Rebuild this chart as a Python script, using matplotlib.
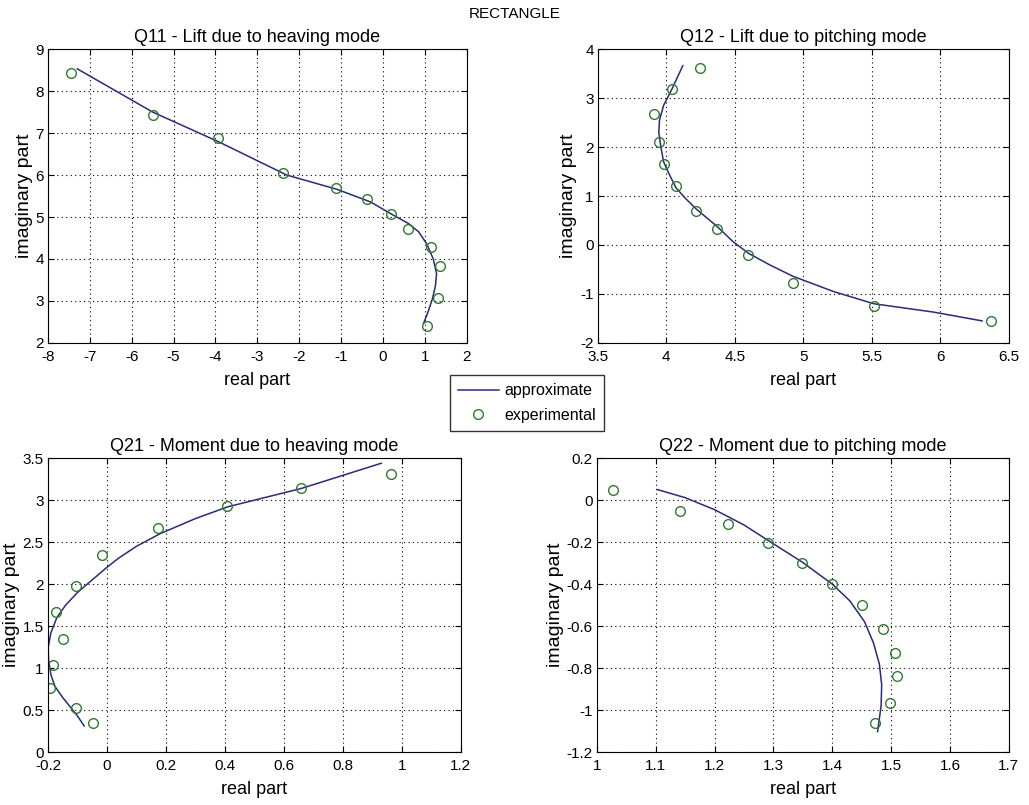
import matplotlib
matplotlib.use('Agg')
import matplotlib.pyplot as plt
from matplotlib.ticker import FuncFormatter, MultipleLocator

plt.rcParams['font.family'] = ['Liberation Sans Narrow', 'Liberation Sans', 'DejaVu Sans']

# Q11 - lift due to heaving mode
q11_exp_re = [-7.45, -5.49, -3.94, -2.39, -1.13, -0.37, 0.19, 0.60, 1.14, 1.36, 1.31, 1.06]
q11_exp_im = [8.43, 7.43, 6.88, 6.05, 5.70, 5.43, 5.08, 4.72, 4.29, 3.84, 3.06, 2.41]
q11_apx_re = [-7.3, -5.5, -3.9, -2.3, -1.1, -0.3, 0.2, 0.6, 0.85, 1.05, 1.2, 1.28, 1.25, 1.18, 1.08, 0.97]
q11_apx_im = [8.53, 7.5, 6.78, 6.0, 5.66, 5.36, 5.07, 4.85, 4.65, 4.35, 4.0, 3.65, 3.35, 3.05, 2.75, 2.47]

# Q12 - lift due to pitching mode
q12_exp_re = [4.245, 4.04, 3.91, 3.945, 3.98, 4.07, 4.22, 4.37, 4.595, 4.925, 5.515, 6.37]
q12_exp_im = [3.62, 3.18, 2.67, 2.10, 1.66, 1.20, 0.69, 0.33, -0.21, -0.77, -1.24, -1.55]
q12_apx_re = [4.12, 4.04, 3.98, 3.95, 3.945, 3.96, 3.98, 4.02, 4.07, 4.14, 4.22, 4.37, 4.49,
              4.6, 4.75, 4.925, 5.22, 5.515, 5.95, 6.305]
q12_apx_im = [3.66, 3.18, 2.85, 2.55, 2.3, 2.0, 1.7, 1.45, 1.17, 0.95, 0.73, 0.38, 0.06,
              -0.17, -0.4, -0.64, -0.95, -1.2, -1.37, -1.55]

# Q21 - moment due to heaving mode
q21_exp_re = [0.963, 0.66, 0.409, 0.172, -0.016, -0.105, -0.171, -0.148, -0.184, -0.193, -0.105, -0.046]
q21_exp_im = [3.31, 3.15, 2.93, 2.67, 2.345, 1.98, 1.67, 1.35, 1.04, 0.76, 0.53, 0.34]
q21_apx_re = [0.931, 0.66, 0.409, 0.3, 0.18, 0.1, 0.04, 0.0, -0.05, -0.1, -0.14, -0.17, -0.19,
              -0.199, -0.198, -0.19, -0.176, -0.15, -0.125, -0.1, -0.077]
q21_apx_im = [3.44, 3.14, 2.92, 2.78, 2.60, 2.45, 2.31, 2.2, 2.05, 1.9, 1.75, 1.6, 1.42,
              1.25, 1.1, 0.92, 0.78, 0.65, 0.54, 0.43, 0.31]

# Q22 - moment due to pitching mode
q22_exp_re = [1.027, 1.141, 1.223, 1.29, 1.349, 1.40, 1.451, 1.486, 1.506, 1.51, 1.498, 1.472]
q22_exp_im = [0.048, -0.051, -0.114, -0.206, -0.30, -0.40, -0.50, -0.616, -0.73, -0.84, -0.965, -1.06]
q22_apx_re = [1.1025, 1.15, 1.2, 1.25, 1.29, 1.349, 1.40, 1.43, 1.455, 1.47, 1.48, 1.484, 1.483, 1.477]
q22_apx_im = [0.051, 0.012, -0.045, -0.118, -0.19, -0.295, -0.40, -0.48, -0.58, -0.68, -0.78, -0.88,
              -0.98, -1.103]

panels = [
    ('Q11 - Lift due to heaving mode', q11_apx_re, q11_apx_im, q11_exp_re, q11_exp_im,
     (-8, 2), (2, 9), 1, 1, [0.0466, 0.574, 0.407, 0.365]),
    ('Q12 - Lift due to pitching mode', q12_apx_re, q12_apx_im, q12_exp_re, q12_exp_im,
     (3.5, 6.5), (-2, 4), 0.5, 1, [0.581, 0.574, 0.3994, 0.365]),
    ('Q21 - Moment due to heaving mode', q21_apx_re, q21_apx_im, q21_exp_re, q21_exp_im,
     (-0.2, 1.2), (0, 3.5), 0.2, 0.5, [0.0466, 0.0658, 0.401, 0.365]),
    ('Q22 - Moment due to pitching mode', q22_apx_re, q22_apx_im, q22_exp_re, q22_exp_im,
     (1, 1.7), (-1.2, 0.2), 0.1, 0.2, [0.580, 0.0658, 0.4004, 0.365]),
]

fmt = FuncFormatter(lambda v, pos: '%g' % round(v, 6))

fig = plt.figure(figsize=(10.29, 8.05), dpi=100)

for title, ax_re, ax_im, ex_re, ex_im, xlim, ylim, xstep, ystep, rect in panels:
    ax = fig.add_axes(rect)
    line, = ax.plot(ax_re, ax_im, color='#2a2a78', lw=1.1, label='approximate')
    pts, = ax.plot(ex_re, ex_im, 'o', mfc='none', mec='#2f7a2f', ms=7, mew=1.0,
                   label='experimental')
    ax.set_xlim(*xlim)
    ax.set_ylim(*ylim)
    ax.xaxis.set_major_locator(MultipleLocator(xstep))
    ax.yaxis.set_major_locator(MultipleLocator(ystep))
    ax.xaxis.set_major_formatter(fmt)
    ax.yaxis.set_major_formatter(fmt)
    ax.grid(True, color='black', linestyle=(0, (1, 3)), linewidth=0.8)
    ax.tick_params(direction='in', top=True, right=True, labelsize=11, length=4, pad=3)
    ax.tick_params(axis='x', pad=5)
    ax.set_title(title, fontsize=13, pad=5)
    ax.set_xlabel('real part', fontsize=13, labelpad=6)
    ax.set_ylabel('imaginary part', fontsize=14, labelpad=2)
    for s in ax.spines.values():
        s.set_linewidth(0.8)

fig.text(0.5, 0.983, 'RECTANGLE', ha='center', va='center', fontsize=11)

fig.legend([line, pts], ['approximate', 'experimental'], loc='upper left',
           bbox_to_anchor=(0.437, 0.534), fontsize=11.5, frameon=True, fancybox=False,
           edgecolor='black', borderpad=0.5, handlelength=2.6, labelspacing=0.6,
           handletextpad=0.3, borderaxespad=0)

fig.savefig('out.png', dpi=100)
